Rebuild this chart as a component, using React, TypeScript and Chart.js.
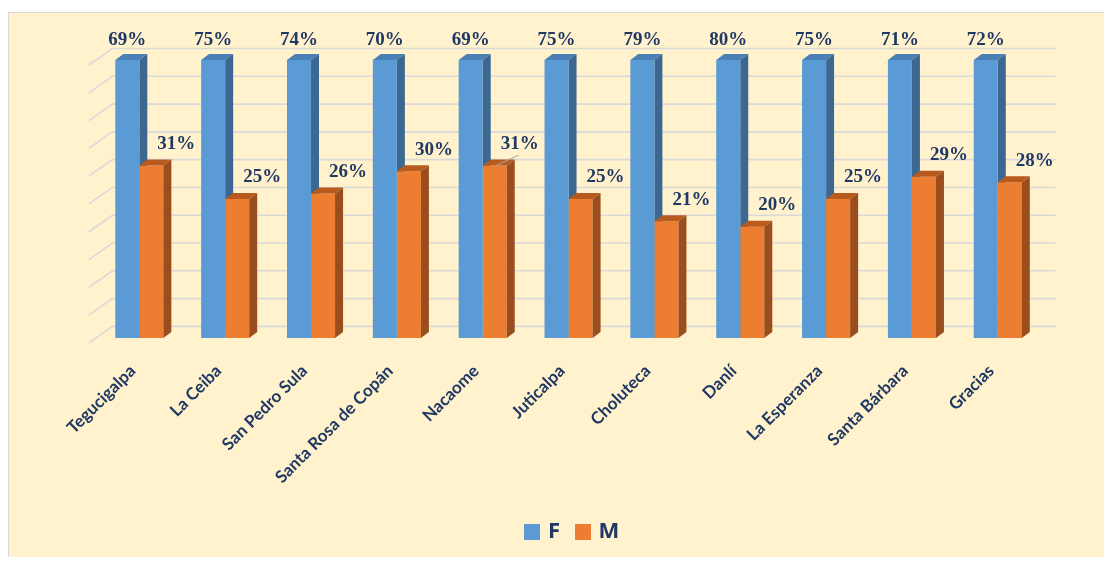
import React, { useEffect, useRef } from "react";
import { Chart, registerables } from "chart.js";

Chart.register(...registerables);

const categories = [
  "Tegucigalpa",
  "La Ceiba",
  "San Pedro Sula",
  "Santa Rosa de Copán",
  "Nacaome",
  "Juticalpa",
  "Choluteca",
  "Danlí",
  "La Esperanza",
  "Santa Bárbara",
  "Gracias",
];
const femaleValues = [69, 75, 74, 70, 69, 75, 79, 80, 75, 71, 72];
const maleValues = [31, 25, 26, 30, 31, 25, 21, 20, 25, 29, 28];
const seriesNames = ["F", "M"];
const axisMin = 0;
const axisMax = 50;
const axisStep = 5;
const leaderLabels = ["Nacaome"];

const NAVY = "#1F3864";
const DX = 8;
const DY = -6;
const faceColors = [
  { front: "#5B9BD5", top: "#4A80B5", side: "#3B6790" },
  { front: "#ED7D31", top: "#B85A1E", side: "#9A4E1E" },
];
const labelOffsets = [
  { dx: 0, dy: -15 },
  { dx: 25, dy: -16.5 },
];

function legendSquare(color: string) {
  const c = document.createElement("canvas");
  c.width = 16;
  c.height = 16;
  const g = c.getContext("2d");
  if (g) {
    g.fillStyle = color;
    g.fillRect(0, 0, 16, 16);
  }
  return c;
}

function drawExtras(chart: any, index: number) {
  const { ctx, chartArea: a } = chart;
  const meta = chart.getDatasetMeta(index);
  const c = faceColors[index];
  meta.data.forEach((bar: any) => {
    const { x, y, base, width } = bar.getProps(["x", "y", "base", "width"], true);
    const left = x - width / 2;
    const right = x + width / 2;
    const top = Math.max(y, a.top);
    ctx.fillStyle = c.top;
    ctx.beginPath();
    ctx.moveTo(left, top);
    ctx.lineTo(left + DX, top + DY);
    ctx.lineTo(right + DX, top + DY);
    ctx.lineTo(right, top);
    ctx.closePath();
    ctx.fill();
    ctx.fillStyle = c.side;
    ctx.beginPath();
    ctx.moveTo(right, top);
    ctx.lineTo(right + DX, top + DY);
    ctx.lineTo(right + DX, base + DY);
    ctx.lineTo(right, base);
    ctx.closePath();
    ctx.fill();
  });
}

const threeDPlugin = {
  id: "threeD",
  afterLayout(chart: any) {
    const lg = chart.legend;
    if (lg) {
      lg.left += 5;
      lg.right += 5;
    }
  },
  beforeDatasetsDraw(chart: any) {
    const { ctx, chartArea: a, scales } = chart;
    const yScale = scales.y;
    ctx.save();
    ctx.strokeStyle = "#D9D9D9";
    ctx.lineWidth = 1.6;
    yScale.ticks.forEach((t: any) => {
      const py = yScale.getPixelForValue(t.value) - 11.5;
      ctx.beginPath();
      ctx.moveTo(a.left - 7.5, py + 16.5);
      ctx.lineTo(a.left + 16, py);
      ctx.lineTo(a.right + 15, py);
      ctx.stroke();
    });
    drawExtras(chart, 0);
    ctx.restore();
  },
  afterDatasetsDraw(chart: any) {
    const { ctx, chartArea: a } = chart;
    ctx.save();
    drawExtras(chart, 1);
    ctx.font = "bold 19px 'Liberation Serif'";
    ctx.fillStyle = NAVY;
    ctx.textAlign = "center";
    ctx.textBaseline = "alphabetic";
    chart.data.datasets.forEach((ds: any, di: number) => {
      const meta = chart.getDatasetMeta(di);
      const off = labelOffsets[di];
      meta.data.forEach((bar: any, i: number) => {
        const { x, y } = bar.getProps(["x", "y"], true);
        const top = Math.max(y, a.top);
        const tx = x + off.dx;
        const ty = top + off.dy;
        ctx.fillText(ds.data[i] + "%", tx, ty);
        if (di === 1 && leaderLabels.includes(chart.data.labels[i])) {
          ctx.strokeStyle = "#A6A6A6";
          ctx.lineWidth = 1;
          ctx.beginPath();
          ctx.moveTo(x + 1, top);
          ctx.lineTo(tx - 1, ty + 6);
          ctx.stroke();
        }
      });
    });
    ctx.restore();
  },
};

export default function App() {
  const canvasRef = useRef<HTMLCanvasElement>(null);

  useEffect(() => {
    if (!canvasRef.current) return;
    const squares = faceColors.map((c) => legendSquare(c.front));
    const chart = new Chart(canvasRef.current, {
      type: "bar",
      data: {
        labels: categories,
        datasets: [
          {
            label: seriesNames[0],
            data: femaleValues,
            backgroundColor: faceColors[0].front,
            borderWidth: 0,
            clip: 0,
            categoryPercentage: 0.56,
            barPercentage: 1,
          } as any,
          {
            label: seriesNames[1],
            data: maleValues,
            backgroundColor: faceColors[1].front,
            borderWidth: 0,
            clip: 0,
            categoryPercentage: 0.56,
            barPercentage: 1,
          } as any,
        ],
      },
      options: {
        responsive: false,
        animation: false,
        layout: { padding: { left: 87.4, right: 70.3, top: 47, bottom: 7.5 } },
        scales: {
          x: {
            grid: { display: false, drawTicks: false },
            border: { display: false },
            afterFit: (scale: any) => {
              scale.height = 164.1;
            },
            ticks: {
              maxRotation: 45,
              minRotation: 45,
              padding: 23,
              labelOffset: -6.6,
              color: NAVY,
              font: { family: "Lato", weight: "bold", size: 17 },
            },
          },
          y: {
            min: axisMin,
            max: axisMax,
            grid: { display: false, drawTicks: false },
            border: { display: false },
            ticks: { display: false, stepSize: axisStep },
          },
        },
        plugins: {
          legend: {
            position: "bottom",
            labels: {
              usePointStyle: true,
              pointStyleWidth: 9,
              boxHeight: 16,
              padding: 18.5,
              color: NAVY,
              font: { family: "'Open Sans'", weight: "bold", size: 22 },
              generateLabels: (chart: any) =>
                Chart.defaults.plugins.legend.labels
                  .generateLabels(chart)
                  .map((item: any, i: number) => ({ ...item, pointStyle: squares[i] })),
            },
          },
          tooltip: { enabled: false },
        },
      },
      plugins: [threeDPlugin],
    });
    return () => chart.destroy();
  }, []);

  return (
    <div
      style={{
        position: "relative",
        top: 4,
        width: 1104,
        height: 549,
        boxSizing: "border-box",
        border: "1px solid #D9D9D9",
        background: "#FFF2CC",
      }}
    >
      <canvas ref={canvasRef} width={1102} height={547} style={{ display: "block" }} />
    </div>
  );
}
